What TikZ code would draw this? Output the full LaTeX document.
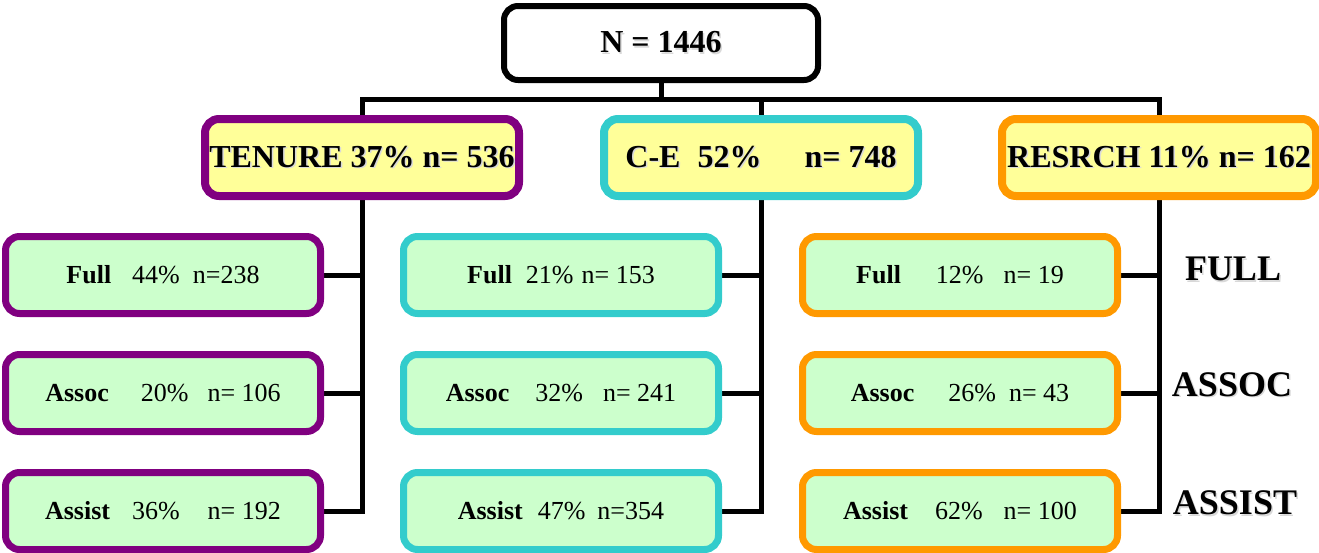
\documentclass[tikz,border=0pt]{standalone}
\usepackage{fontspec}
\setmainfont{Liberation Serif}
\usetikzlibrary{positioning, calc, backgrounds}

\definecolor{tenurepurple}{HTML}{800080}
\definecolor{ceteal}{HTML}{33CCCC}
\definecolor{resorange}{HTML}{FF9900}
\definecolor{headyellow}{HTML}{FFFF99}
\definecolor{rankgreen}{HTML}{CCFFCC}

\newcommand{\txtshadow}[1]{\makebox[0pt][l]{\hspace{1.5pt}\raisebox{-1.5pt}{\textcolor{black!15}{#1}}}#1}
\newcommand{\rankline}[5]{\textbf{#1}\hspace{#2pt}#3\hspace{#4pt}#5}

\begin{document}
\begin{tikzpicture}[x=1pt, y=1pt, node distance=118pt, auto]
        % Styles
        \tikzstyle{total} = [rectangle, draw=black, fill=white, line width=6pt, rounded corners=14pt, minimum width=314pt, minimum height=74pt, inner sep=0pt, font=\fontsize{32}{38}\selectfont\bfseries]
        \tikzstyle{group} = [rectangle, line width=8pt, fill=headyellow, rounded corners=14pt, minimum width=314pt, minimum height=77pt, inner sep=0pt, font=\fontsize{32}{38}\selectfont\bfseries]
        \tikzstyle{rank} = [rectangle, line width=7pt, fill=rankgreen, rounded corners=14pt, minimum width=315pt, minimum height=77pt, inner sep=0pt, font=\fontsize{26}{31}\selectfont]
        \tikzstyle{ranklabel} = [font=\fontsize{36}{43}\selectfont\bfseries]
        \tikzstyle{line} = [draw, line width=5pt]

        \useasboundingbox (0,0) rectangle (1319,-552);

        % Nodes
        \node (total) [total] at (661,-43) {\txtshadow{N = 1446}};
        \node (tenure) [group, draw=tenurepurple, below of=total, node distance=114.5pt, xshift=-299pt] {\txtshadow{TENURE 37\% n= 536}};
        \node (ce) [group, draw=ceteal, below of=total, node distance=114.5pt, xshift=100pt] {\txtshadow{C-E\hspace{17pt}52\%\hspace{43pt}n= 748}};
        \node (res) [group, draw=resorange, below of=total, node distance=114.5pt, xshift=498pt] {\txtshadow{RESRCH 11\% n= 162}};

        \node (full1) [rank, draw=tenurepurple, below of=tenure, node distance=117.5pt, xshift=-199pt] {\rankline{Full}{21}{44\%}{13}{n=238}};
        \node (assoc1) [rank, draw=tenurepurple, below of=full1] {\rankline{Assoc}{32}{20\%}{19}{n= 106}};
        \node (assist1) [rank, draw=tenurepurple, below of=assoc1] {\rankline{Assist}{22}{36\%}{28}{n= 192}};

        \node (full2) [rank, draw=ceteal, below of=ce, node distance=117.5pt, xshift=-200pt] {\rankline{Full}{14}{21\%}{8}{n= 153}};
        \node (assoc2) [rank, draw=ceteal, below of=full2] {\rankline{Assoc}{26}{32\%}{20}{n= 241}};
        \node (assist2) [rank, draw=ceteal, below of=assoc2] {\rankline{Assist}{15}{47\%}{12}{n=354}};

        \node (full3) [rank, draw=resorange, below of=res, node distance=117.5pt, xshift=-199pt] {\rankline{Full}{35}{12\%}{20}{n= 19}};
        \node (assoc3) [rank, draw=resorange, below of=full3] {\rankline{Assoc}{34}{26\%}{13}{n= 43}};
        \node (assist3) [rank, draw=resorange, below of=assoc3] {\rankline{Assist}{27}{62\%}{21}{n= 100}};

        \node (lblfull) [ranklabel, right of=full3, node distance=273pt, yshift=5pt] {\txtshadow{FULL}};
        \node (lblassoc) [ranklabel, right of=assoc3, node distance=272pt, yshift=8pt] {\txtshadow{ASSOC}};
        \node (lblassist) [ranklabel, right of=assist3, node distance=275pt, yshift=7.5pt] {\txtshadow{ASSIST}};

        % Edges behind the boxes
        \begin{pgfonlayer}{background}
        % Top -> groups
        \coordinate (bus) at ($(total.south)!0.5!(total.south |- ce.north)$);
        \path [line] (total.south) -- (bus);
        \path [line] (tenure.north) |- (bus) -| (res.north);
        \path [line] (ce.north) -- (ce.north |- bus);

        % Tenure -> ranks
        \path [line] (tenure.south) |- (assist1.east);
        \path [line] (full1.east) -- (full1.east -| tenure.south);
        \path [line] (assoc1.east) -- (assoc1.east -| tenure.south);

        % C-E -> ranks
        \path [line] (ce.south) |- (assist2.east);
        \path [line] (full2.east) -- (full2.east -| ce.south);
        \path [line] (assoc2.east) -- (assoc2.east -| ce.south);

        % Research -> ranks
        \path [line] (res.south) |- (assist3.east);
        \path [line] (full3.east) -- (full3.east -| res.south);
        \path [line] (assoc3.east) -- (assoc3.east -| res.south);
        \end{pgfonlayer}

\end{tikzpicture}
\end{document}
